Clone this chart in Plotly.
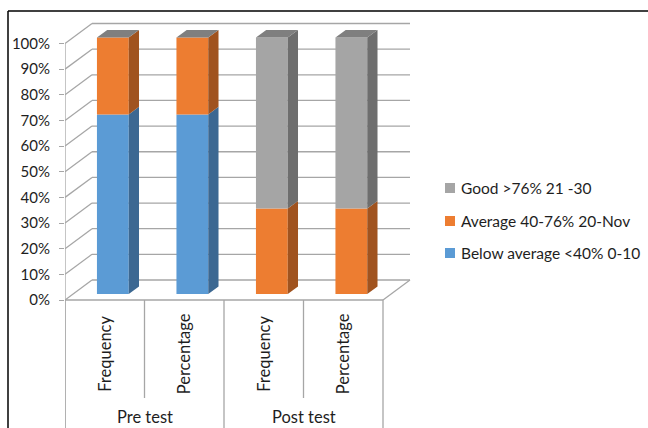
import plotly.graph_objects as go

# Categories (outer group / inner measure)
groups = ["Pre test", "Post test"]
measures = ["Frequency", "Percentage", "Frequency", "Percentage"]

# Series values per column (Frequency counts and Percentages)
below_avg = [21, 70, 0, 0]
average = [9, 30, 10, 33.33]
good = [0, 0, 20, 66.67]

series_names = ["Below average <40% 0-10", "Average 40-76% 20-Nov", "Good >76% 21 -30"]
front_colors = ["#5B9BD5", "#ED7D31", "#A5A5A5"]
side_colors = ["#3C6892", "#A0531F", "#6E6E6E"]
top_colors = ["#4A7FB0", "#C0621F", "#7F7F7F"]

tick_vals = [0, 10, 20, 30, 40, 50, 60, 70, 80, 90, 100]
tick_text = [f"{v}%" for v in tick_vals]

# ---- figure geometry (pixels) ----
W, H = 648, 428
L, R_PX = 65, 420
T, B_PX = 15, 428
PX_X = 79.5          # pixels per category slot
PX_Y = 2.565         # pixels per percent
Y0_PX = 300          # pixel row of 0% on the front wall

x_range = [0, (R_PX - L) / PX_X]
y_range = [-(B_PX - Y0_PX) / PX_Y, (Y0_PX - T) / PX_Y]

# 3-D depth vector in data units
DX = 27 / PX_X
DY = 20 / PX_Y
BAR_FRONT = 0.3      # depth fraction of bar front face
BAR_DEPTH = 0.38     # depth fraction occupied by a bar
BAR_W = 0.40

def paper_x(px):
    return (px - L) / (R_PX - L)

def paper_y(py):
    return (B_PX - py) / (B_PX - T)

# stacked 100% percentages
series = [below_avg, average, good]
n = len(measures)
totals = [sum(s[i] for s in series) for i in range(n)]
pct = [[s[i] / totals[i] * 100 for i in range(n)] for s in series]

x_front = [i + 0.5 + BAR_FRONT * DX for i in range(n)]
base0 = BAR_FRONT * DY
ddx, ddy = BAR_DEPTH * DX, BAR_DEPTH * DY

fig = go.Figure()

# back wall, side wall and floor lines
grid_color = "#A6A6A6"
shapes = []
for v in tick_vals:
    shapes.append(dict(type="line", xref="x", yref="y", x0=0, y0=v, x1=DX, y1=v + DY,
                       line=dict(color=grid_color, width=1.3), layer="below"))
    shapes.append(dict(type="line", xref="x", yref="y", x0=DX, y0=v + DY, x1=n + DX, y1=v + DY,
                       line=dict(color=grid_color, width=1.3), layer="below"))
# front-left edge of the side wall
shapes.append(dict(type="line", xref="x", yref="y", x0=0, y0=100, x1=0, y1=y_range[0],
                   line=dict(color=grid_color, width=1.3), layer="below"))
# floor front edge and right edge
shapes.append(dict(type="line", xref="x", yref="y", x0=0, y0=0, x1=n, y1=0,
                   line=dict(color=grid_color, width=1.3), layer="below"))
shapes.append(dict(type="line", xref="x", yref="y", x0=n, y0=0, x1=n + DX, y1=DY,
                   line=dict(color=grid_color, width=1.3), layer="below"))
# category dividers
inner_bottom = -(398 - Y0_PX) / PX_Y
for i in range(n + 1):
    y_end = y_range[0] if i % 2 == 0 else inner_bottom
    shapes.append(dict(type="line", xref="x", yref="y", x0=i, y0=0, x1=i, y1=y_end,
                       line=dict(color=grid_color, width=1.3), layer="below"))

# bar front faces
cum = [base0] * n
bases = []
for k, name in enumerate(series_names):
    b = list(cum)
    bases.append(b)
    fig.add_trace(go.Bar(
        x=x_front, y=pct[k], base=b, width=BAR_W, name=name,
        marker=dict(color=front_colors[k], line=dict(width=0)),
        showlegend=False, hoverinfo="skip"))
    cum = [cum[i] + pct[k][i] for i in range(n)]

# bar side faces
for k in range(len(series)):
    xs, ys = [], []
    for i in range(n):
        if pct[k][i] <= 0:
            continue
        xr = x_front[i] + BAR_W / 2
        b0 = bases[k][i]
        b1 = b0 + pct[k][i]
        xs += [xr, xr, xr + ddx, xr + ddx, xr, None]
        ys += [b0, b1, b1 + ddy, b0 + ddy, b0, None]
    if xs:
        fig.add_trace(go.Scatter(x=xs, y=ys, mode="lines", fill="toself",
                                 fillcolor=side_colors[k], line=dict(width=0),
                                 showlegend=False, hoverinfo="skip"))

# bar tops (top face of the last stacked series)
xs, ys = [], []
for i in range(n):
    xl = x_front[i] - BAR_W / 2
    xr = x_front[i] + BAR_W / 2
    t = cum[i]
    xs += [xl, xr, xr + ddx, xl + ddx, xl, None]
    ys += [t, t, t + ddy, t + ddy, t, None]
fig.add_trace(go.Scatter(x=xs, y=ys, mode="lines", fill="toself",
                         fillcolor=top_colors[-1], line=dict(width=0),
                         showlegend=False, hoverinfo="skip"))

text_color = "#1E1E1E"
font_family = "Lato"
annotations = []
# inner category labels
for i, m in enumerate(measures):
    annotations.append(dict(x=i + 0.5, y=-(354 - Y0_PX) / PX_Y, xref="x", yref="y",
                            text=m, textangle=-90, showarrow=False,
                            font=dict(family=font_family, size=16.5, color=text_color)))
# outer group labels
for g, name in enumerate(groups):
    annotations.append(dict(x=2 * g + 1, y=-(417 - Y0_PX) / PX_Y, xref="x", yref="y",
                            text=name, showarrow=False,
                            font=dict(family=font_family, size=16.5, color=text_color)))

# legend (top series first)
legend_rows = [188, 221, 253]
for row, k in zip(legend_rows, [2, 1, 0]):
    shapes.append(dict(type="rect", xref="paper", yref="paper",
                       x0=paper_x(445), x1=paper_x(455),
                       y0=paper_y(row + 5), y1=paper_y(row - 5),
                       fillcolor=front_colors[k], line=dict(width=0)))
    annotations.append(dict(x=paper_x(459), y=paper_y(row), xref="paper", yref="paper",
                            xanchor="left", yanchor="middle", text=series_names[k],
                            showarrow=False,
                            font=dict(family=font_family, size=15.5, color=text_color)))

# chart frame
shapes.append(dict(type="line", xref="paper", yref="paper",
                   x0=paper_x(8), y0=paper_y(11), x1=paper_x(648), y1=paper_y(11),
                   line=dict(color="black", width=1.5)))
shapes.append(dict(type="line", xref="paper", yref="paper",
                   x0=paper_x(8), y0=paper_y(11), x1=paper_x(8), y1=paper_y(440),
                   line=dict(color="black", width=1.5)))

fig.update_layout(
    width=W, height=H,
    margin=dict(l=L, r=W - R_PX, t=T, b=H - B_PX, pad=0),
    paper_bgcolor="white", plot_bgcolor="white",
    barmode="overlay",
    showlegend=False,
    shapes=shapes,
    annotations=annotations,
    xaxis=dict(range=x_range, showgrid=False, zeroline=False, showticklabels=False,
               showline=False, ticks="", fixedrange=True),
    yaxis=dict(range=y_range, showgrid=False, zeroline=False, showline=False,
               tickvals=tick_vals, ticktext=tick_text, ticks="outside", ticklen=5,
               tickcolor=grid_color, tickwidth=1.3, ticklabelstandoff=6,
               tickfont=dict(family=font_family, size=15, color=text_color),
               fixedrange=True),
)

fig.write_html("out.html")
